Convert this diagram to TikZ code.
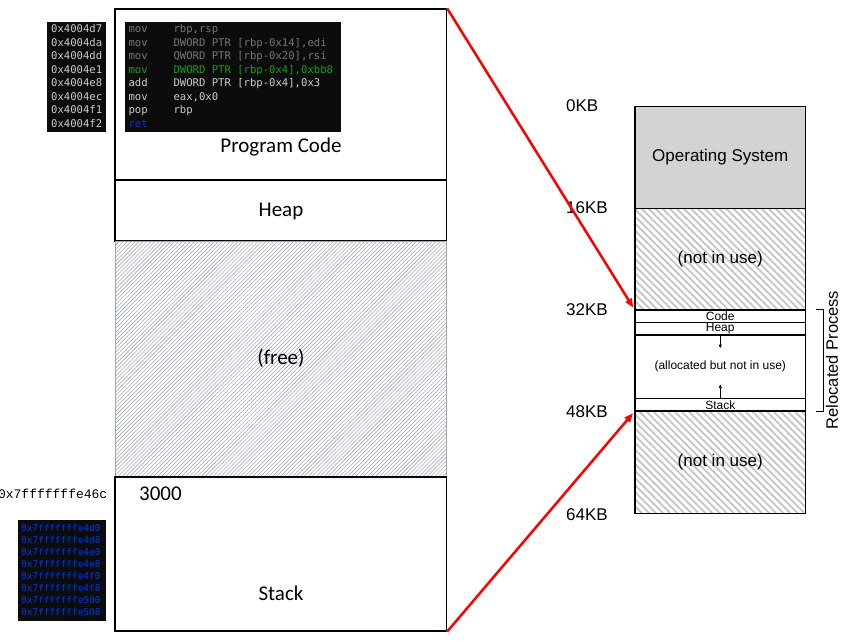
\documentclass[tikz,border=0pt]{standalone}
\usepackage{fontspec}
\usetikzlibrary{arrows.meta,patterns.meta}
\newfontfamily\calfont{Carlito}
\newfontfamily\helvfont{Liberation Sans}
\newfontfamily\codefont{DejaVu Sans Mono}
\newfontfamily\addrfont{Liberation Mono}
\definecolor{termbg}{HTML}{0C0C0C}
\definecolor{termgray}{HTML}{767676}
\definecolor{termgreen}{HTML}{13A10E}
\definecolor{termwhite}{HTML}{CCCCCC}
\definecolor{termblue}{HTML}{0037DA}
\definecolor{hatchblue}{HTML}{A0A8B8}
\definecolor{osgray}{HTML}{D3D3D3}
\definecolor{stripegray}{HTML}{C4C4C4}

\begin{document}
\begin{tikzpicture}[x=1pt,y=-1pt,
   region/.style={draw, line width=1.3pt, minimum width=331.5pt, inner sep=0pt},
   freearea/.style={draw=gray!70, line width=1pt, minimum width=331.5pt, inner sep=0pt,
      pattern={Lines[angle=45,distance=2.8pt,line width=0.6pt]}, pattern color=hatchblue},
   biglabel/.style={inner sep=0pt, font=\calfont\fontsize{21}{25}\selectfont},
   term/.style={fill=termbg, inner sep=0pt},
   codetxt/.style={anchor=base west, inner sep=0pt, font=\codefont\fontsize{10.6}{12}\selectfont},
   stacktxt/.style={anchor=base west, inner sep=0pt, text=termblue, font=\codefont\fontsize{9.4}{11}\selectfont},
   rbox/.style={draw, line width=1.3pt, minimum width=170.5pt, inner sep=0pt,
      font=\helvfont\fontsize{12}{14}\selectfont},
   stripes/.style={pattern={Lines[angle=-45,distance=5pt,line width=1.8pt]}, pattern color=stripegray},
   midtxt/.style={font=\helvfont\fontsize{17}{20}\selectfont},
   kblabel/.style={anchor=west, inner sep=0pt, font=\helvfont\fontsize{17}{20}\selectfont},
   redarrow/.style={red, line width=2.5pt, -{Triangle[length=9pt,width=7pt]}, shorten >=2pt},
   smallarrow/.style={line width=0.8pt, -{Latex[length=4pt,width=3.5pt]}}]
   \useasboundingbox (0,0) rectangle (860,642);

   % process address space
   \node[region, minimum height=171pt] (lcode) at (280.75,94.5) {};
   \node[region, minimum height=61pt] (lheap) at (280.75,210.5) {};
   \node[freearea, minimum height=236pt] (lfree) at (280.75,359) {};
   \node[region, minimum height=154pt] (lstack) at (280.75,554) {};
   \node[biglabel] (lcodetxt) at (281,147) {Program Code};
   \node[biglabel] (lheaptxt) at (281,211) {Heap};
   \node[biglabel] (lfreetxt) at (281,358) {(free)};
   \node[biglabel, anchor=west] (lval) at (139,494) {3000};
   \node[biglabel] (lstacktxt) at (281,593) {Stack};

   % disassembly
   \node[term, minimum width=58.4pt, minimum height=110pt] (addrbg) at (76.5,77.3) {};
   \node[term, minimum width=216pt, minimum height=110.6pt] (codebg) at (233,77) {};
   \foreach \a [count=\i from 0] in {4004d7,4004da,4004dd,4004e1,4004e8,4004ec,4004f1,4004f2}
      \node[codetxt, text=termwhite] (addr\i) at (51,{33+13.45*\i}) {0x\a};
   \foreach \c/\m/\o [count=\i from 0] in {termgray/mov/{rbp,rsp},
         termgray/mov/{DWORD PTR [rbp-0x14],edi}, termgray/mov/{QWORD PTR [rbp-0x20],rsi},
         termgreen/mov/{DWORD PTR [rbp-0x4],0xbb8}, termwhite/add/{DWORD PTR [rbp-0x4],0x3},
         termwhite/mov/{eax,0x0}, termwhite/pop/rbp} {
      \node[codetxt, text=\c] (mn\i) at (128.3,{33+13.45*\i}) {\m};
      \node[codetxt, text=\c] (op\i) at (173.3,{33+13.45*\i}) {\o};
   }
   \node[codetxt, text=termblue] (mn7) at (128.3,{33+13.45*7}) {ret};

   % stack
   \node[inner sep=0pt, anchor=east, font=\addrfont\fontsize{13}{15}\selectfont] (spaddr) at (107.5,494) {0x7fffffffe46c};
   \node[term, minimum width=88pt, minimum height=101pt] (stackbg) at (62,570.5) {};
   \foreach \a [count=\i from 0] in {4d0,4d8,4e0,4e8,4f0,4f8,500,508}
      \node[stacktxt] (saddr\i) at (21,{531.7+11.9*\i}) {0x7fffffffe\a};

   % physical memory
   \node[rbox, fill=osgray, minimum height=101.8pt, midtxt] (ros) at (720.25,157.4) {Operating System};
   \node[rbox, stripes, minimum height=101.7pt, midtxt] (rfree1) at (720.25,259.15) {(not in use)};
   \node[rbox, minimum height=12.3pt] (rcode) at (720.25,316.15) {Code};
   \node[rbox, minimum height=12.7pt] (rheap) at (720.25,328.65) {Heap};
   \node[rbox, minimum height=63.7pt] (ralloc) at (720.25,366.85) {(allocated but not in use)};
   \node[rbox, minimum height=12.3pt] (rstack) at (720.25,404.85) {Stack};
   \node[rbox, stripes, minimum height=102.3pt, midtxt] (rfree2) at (720.25,462.15) {(not in use)};
   \draw[smallarrow] (rheap.south) -- ++(0,13);
   \draw[smallarrow] (rstack.north) -- ++(0,-14);
   \foreach \k/\y in {0/106,16/208,32/310,48/411.7,64/515}
      \node[kblabel] (kb\k) at (566,\y) {\k KB};
   \draw[line width=0.8pt] ([xshift=10pt]rcode.north east) -- ++(7,0) coordinate (brtop)
         -- (brtop |- rstack.south) coordinate (brbot) -- ++(-7,0);
   \node[rotate=90, inner sep=0pt, font=\helvfont\fontsize{16.5}{19}\selectfont] (reloc) at (832,360) {Relocated Process};

   % relocation
   \draw[redarrow] (lcode.north east) -- (rcode.north west);
   \draw[redarrow] (lstack.south east) -- (rstack.south west);
\end{tikzpicture}
\end{document}
